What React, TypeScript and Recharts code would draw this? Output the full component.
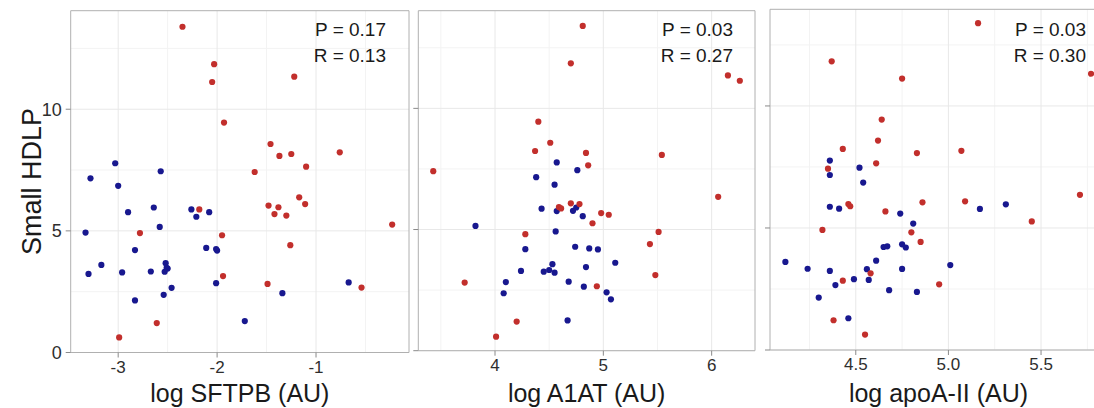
import React from "react";
import {
  ScatterChart,
  Scatter,
  XAxis,
  YAxis,
  CartesianGrid,
  ReferenceArea,
  Label,
} from "recharts";

// ---------- data ----------
const yTicks = [0, 5, 10];
const yMinor = [2.5, 7.5, 12.5];

// Panel 1: log SFTPB
const sftpbTicks = [-3, -2, -1];
const sftpbMinor = [-2.5, -1.5, -0.5];
const sftpbRedX = [-2.35, -2.03, -2.05, -1.22, -1.93, -1.46, -1.37, -1.25, -0.76, -1.62, -1.1, -1.17, -1.11, -1.48, -1.38, -1.42, -1.3, -2.18, -0.23, -2.78, -1.95, -1.26, -1.94, -1.49, -0.54, -2.61, -2.99];
const sftpbRedY = [13.39, 11.85, 11.12, 11.34, 9.45, 8.57, 8.08, 8.16, 8.23, 7.42, 7.64, 6.38, 6.1, 6.04, 5.97, 5.69, 5.63, 5.88, 5.26, 4.91, 4.82, 4.41, 3.14, 2.82, 2.67, 1.21, 0.62];
const sftpbBlueX = [-3.03, -3.28, -3.0, -2.57, -2.9, -2.64, -2.26, -2.21, -2.08, -3.33, -2.58, -2.83, -2.11, -2.01, -2.0, -3.17, -3.3, -2.96, -2.67, -2.52, -2.51, -2.5, -2.53, -2.46, -2.54, -2.83, -2.01, -1.72, -1.34, -0.67];
const sftpbBlueY = [7.78, 7.16, 6.85, 7.45, 5.77, 5.96, 5.88, 5.58, 5.77, 4.93, 5.16, 4.21, 4.3, 4.25, 4.19, 3.6, 3.23, 3.29, 3.33, 3.67, 3.48, 3.45, 3.32, 2.66, 2.37, 2.14, 2.85, 1.29, 2.44, 2.88];

// Panel 2: log A1AT
const a1atTicks = [4, 5, 6];
const a1atMinor = [3.5, 4.5, 5.5];
const a1atRedX = [4.81, 4.7, 6.15, 6.26, 4.4, 4.51, 4.37, 4.84, 5.54, 4.86, 3.43, 6.06, 4.7, 4.78, 4.59, 4.61, 4.98, 5.05, 4.9, 4.28, 5.51, 5.43, 5.48, 4.94, 3.72, 4.2, 4.01];
const a1atRedY = [13.4, 11.86, 11.36, 11.14, 9.45, 8.58, 8.24, 8.16, 8.08, 7.65, 7.41, 6.35, 6.08, 6.05, 5.93, 5.87, 5.68, 5.61, 5.26, 4.81, 4.9, 4.4, 3.12, 2.66, 2.81, 1.2, 0.58];
const a1atBlueX = [4.57, 4.76, 4.38, 4.55, 4.43, 4.57, 4.72, 4.75, 4.81, 3.82, 4.56, 4.28, 4.74, 4.87, 4.95, 5.11, 4.53, 4.24, 4.45, 4.5, 4.55, 4.84, 4.1, 4.08, 4.68, 4.82, 5.03, 5.07, 4.67];
const a1atBlueY = [7.77, 7.45, 7.16, 6.85, 5.86, 5.76, 5.77, 5.91, 5.55, 5.15, 4.92, 4.19, 4.29, 4.22, 4.18, 3.63, 3.57, 3.29, 3.26, 3.33, 3.22, 3.45, 2.83, 2.37, 2.85, 2.64, 2.41, 2.12, 1.25];

// Panel 3: log apoA-II
const apoTicks = [4.5, 5.0, 5.5];
const apoMinor = [4.25, 4.75, 5.25, 5.75];
const apoRedX = [5.16, 4.37, 4.75, 5.77, 4.64, 4.62, 4.43, 4.83, 5.07, 4.61, 4.35, 5.71, 4.86, 5.09, 4.46, 4.47, 4.66, 5.45, 4.32, 4.8, 4.85, 4.58, 4.43, 4.95, 4.38, 4.55];
const apoRedY = [13.39, 11.83, 11.12, 11.32, 9.44, 8.58, 8.24, 8.07, 8.16, 7.65, 7.43, 6.36, 6.05, 6.09, 5.98, 5.89, 5.68, 5.27, 4.92, 4.82, 4.43, 3.14, 2.84, 2.69, 1.22, 0.63];
const apoBlueX = [4.36, 4.36, 4.52, 4.54, 4.36, 4.41, 4.74, 5.17, 5.31, 4.81, 4.65, 4.67, 4.75, 4.77, 4.61, 4.12, 4.24, 4.36, 4.56, 4.75, 5.01, 4.49, 4.57, 4.39, 4.68, 4.83, 4.3, 4.46];
const apoBlueY = [7.76, 7.17, 7.47, 6.86, 5.87, 5.79, 5.59, 5.78, 5.97, 5.18, 4.22, 4.25, 4.33, 4.2, 3.66, 3.61, 3.33, 3.24, 3.31, 3.32, 3.48, 2.9, 2.87, 2.66, 2.45, 2.38, 2.15, 1.3];

const pLabels = ["P = 0.17", "P = 0.03", "P = 0.03"];
const rLabels = ["R = 0.13", "R = 0.27", "R = 0.30"];
const xTitles = ["log SFTPB (AU)", "log A1AT (AU)", "log apoA-II (AU)"];
const yTitle = "Small HDLP";

// ---------- style ----------
const FONT = "'Liberation Sans', Arial, Helvetica, sans-serif";
const RED = "#c22f2c";
const BLUE = "#18188f";
const GRID_MAJOR = "#e8e8e8";
const GRID_MINOR = "#f3f3f3";
const BORDER = "#b0b0b0";
const TICK = "#8a8a8a";
const TXT = "#2e2e2e";
const H = 408;

type Pt = { x: number; y: number };
const zip = (xs: number[], ys: number[]): Pt[] => xs.map((x, i) => ({ x, y: ys[i] }));

const dot = (color: string) => (props: any) => (
  <circle cx={props.cx} cy={props.cy} r={3.1} fill={color} />
);

type PanelProps = {
  left: number;
  width: number;
  top: number;
  plotBottom: number;
  yAxisWidth: number;
  marginLeft: number;
  xDomain: [number, number];
  yDomain: [number, number];
  xTicks: number[];
  xMinor: number[];
  fmt: (v: number) => string;
  showY: boolean;
  red: Pt[];
  blue: Pt[];
  xTitle: string;
  p: string;
  r: string;
  annotRight: number;
};

function Panel(pp: PanelProps) {
  return (
    <div style={{ position: "absolute", left: pp.left, top: 0 }}>
      <ScatterChart
        width={pp.width}
        height={H}
        margin={{ top: pp.top, right: 1, bottom: 0, left: pp.marginLeft }}
      >
        <CartesianGrid
          stroke={GRID_MINOR}
          verticalValues={pp.xMinor}
          horizontalValues={yMinor}
        />
        <CartesianGrid
          stroke={GRID_MAJOR}
          verticalValues={pp.xTicks}
          horizontalValues={yTicks}
        />
        <XAxis
          type="number"
          dataKey="x"
          domain={pp.xDomain}
          ticks={pp.xTicks}
          interval={0}
          allowDataOverflow
          height={H - pp.plotBottom}
          axisLine={false}
          tickLine={{ stroke: TICK }}
          tickSize={5}
          tickMargin={3}
          tickFormatter={pp.fmt}
          tick={{ fontSize: 17, fill: TXT, fontFamily: FONT }}
        >
          <Label
            value={pp.xTitle}
            position="insideBottom"
            offset={6}
            style={{ fontSize: 25, fill: "#1a1a1a", fontFamily: FONT }}
          />
        </XAxis>
        <YAxis
          type="number"
          dataKey="y"
          domain={pp.yDomain}
          ticks={yTicks}
          interval={0}
          allowDataOverflow
          width={pp.yAxisWidth}
          axisLine={false}
          tickLine={{ stroke: TICK }}
          tickSize={5}
          tickMargin={4}
          tickFormatter={pp.showY ? (v: number) => String(v) : () => ""}
          tick={{ fontSize: 18, fill: TXT, fontFamily: FONT }}
        >
          {pp.showY ? (
            <Label
              value={yTitle}
              angle={-90}
              position="insideLeft"
              offset={21}
              style={{ fontSize: 27, fill: "#1a1a1a", fontFamily: FONT, textAnchor: "middle" }}
            />
          ) : null}
        </YAxis>
        <ReferenceArea
          x1={pp.xDomain[0]}
          x2={pp.xDomain[1]}
          y1={pp.yDomain[0]}
          y2={pp.yDomain[1]}
          fill="none"
          stroke={BORDER}
          strokeWidth={1}
          ifOverflow="visible"
        />
        <Scatter data={pp.blue} shape={dot(BLUE)} isAnimationActive={false} />
        <Scatter data={pp.red} shape={dot(RED)} isAnimationActive={false} />
        <text
          x={pp.annotRight}
          y={36}
          textAnchor="end"
          fontSize={19}
          fontFamily={FONT}
          fill="#1a1a1a"
        >
          {pp.p}
        </text>
        <text
          x={pp.annotRight}
          y={62}
          textAnchor="end"
          fontSize={19}
          fontFamily={FONT}
          fill="#1a1a1a"
        >
          {pp.r}
        </text>
      </ScatterChart>
    </div>
  );
}

export default function App() {
  return (
    <div
      style={{
        position: "absolute",
        left: 0,
        top: 0,
        width: 1094,
        height: H,
        overflow: "hidden",
        background: "#ffffff",
      }}
    >
      <Panel
        left={0}
        width={410}
        top={10.7}
        plotBottom={352.5}
        yAxisWidth={60}
        marginLeft={10.7}
        xDomain={[-3.48, -0.06]}
        yDomain={[0, 14.05]}
        xTicks={sftpbTicks}
        xMinor={sftpbMinor}
        fmt={(v) => String(v)}
        showY={true}
        red={zip(sftpbRedX, sftpbRedY)}
        blue={zip(sftpbBlueX, sftpbBlueY)}
        xTitle={xTitles[0]}
        p={pLabels[0]}
        r={rLabels[0]}
        annotRight={386}
      />
      <Panel
        left={410}
        width={346}
        top={10.7}
        plotBottom={350.7}
        yAxisWidth={8.3}
        marginLeft={0}
        xDomain={[3.292, 6.4]}
        yDomain={[0, 14.03]}
        xTicks={a1atTicks}
        xMinor={a1atMinor}
        fmt={(v) => String(v)}
        showY={false}
        red={zip(a1atRedX, a1atRedY)}
        blue={zip(a1atBlueX, a1atBlueY)}
        xTitle={xTitles[1]}
        p={pLabels[1]}
        r={rLabels[1]}
        annotRight={733 - 410}
      />
      <Panel
        left={757}
        width={351}
        top={9.3}
        plotBottom={350}
        yAxisWidth={13}
        marginLeft={0}
        xDomain={[4.037, 5.856]}
        yDomain={[0, 13.96]}
        xTicks={apoTicks}
        xMinor={apoMinor}
        fmt={(v) => v.toFixed(1)}
        showY={false}
        red={zip(apoRedX, apoRedY)}
        blue={zip(apoBlueX, apoBlueY)}
        xTitle={xTitles[2]}
        p={pLabels[2]}
        r={rLabels[2]}
        annotRight={1086 - 757}
      />
    </div>
  );
}
